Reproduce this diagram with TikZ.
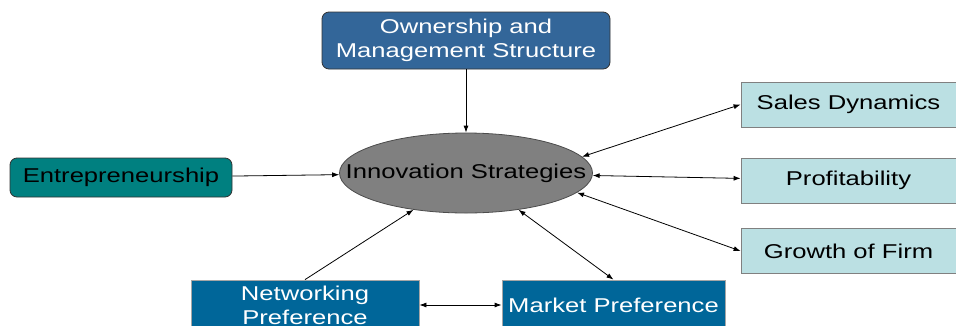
\documentclass[tikz,border=0pt]{standalone}
\usepackage{fontspec}
\setmainfont[FakeStretch=1.28]{Liberation Sans}
\usepackage{xcolor}
\definecolor{ownblue}{RGB}{51,102,153}
\definecolor{entteal}{RGB}{0,128,128}
\definecolor{innogray}{RGB}{128,128,128}
\definecolor{outcyan}{RGB}{187,224,227}
\definecolor{prefblue}{RGB}{0,102,153}
\usetikzlibrary{shapes.geometric}
\usetikzlibrary{positioning}
\usetikzlibrary{arrows.meta}

\tikzset{
  box/.style={draw=#1,line width=0.8pt,font=\fontsize{20}{24}\selectfont,align=center,inner sep=0pt},
  drivebox/.style={box=black!80,rounded corners=7pt},
  outbox/.style={box=gray,fill=outcyan,minimum width=215,minimum height=45},
  prefbox/.style={box=gray!70,fill=prefblue,text=white,minimum height=50},
  link/.style={line width=0.8pt,-{Latex[length=7pt,width=5pt]}},
  dlink/.style={line width=0.8pt,{Latex[length=7pt,width=5pt]}-{Latex[length=7pt,width=5pt]}}
}

\begin{document}
\begin{tikzpicture}[x=1pt,y=-1pt]
\clip (0,0) rectangle (956,325);
\fill[white] (0,0) rectangle (956,325);

% factors feeding in
\node (own) at (466,40.5) [drivebox,fill=ownblue,text=white,minimum width=288,minimum height=57]
  {Ownership and\\Management Structure};
\node (entre) at (121,177.5) [drivebox,fill=entteal,minimum width=222,minimum height=39]
  {Entrepreneurship};
\node (inno) at (466,173) [ellipse,draw=black!70,line width=0.8pt,fill=innogray,
  minimum width=253,minimum height=80,inner sep=0pt,font=\fontsize{20}{24}\selectfont]
  {\makebox[0pt]{Innovation Strategies}};

% outcomes
\node (sales) at (848.5,104.5) [outbox] {Sales Dynamics};
\node (profit) at (848.5,180.5) [outbox] {Profitability};
\node (growth) at (848.5,251) [outbox] {Growth of Firm};

% preferences
\node (net) at (305,305) [prefbox,minimum width=228] {Networking\\Preference};
\node (market) at (613.5,305) [prefbox,minimum width=223] {Market Preference};

\draw[link] (own) -- (inno);
\draw[link] (entre) -- (inno);
\draw[dlink] (inno.8) -- (sales.west);
\draw[dlink] (inno) -- (profit);
\draw[dlink] (inno.-10) -- (growth.west);
\draw[link] (net.north) -- (inno.-145);
\draw[dlink] (inno.-35) -- (market.north);
\draw[dlink] (net) -- (market);
\end{tikzpicture}
\end{document}
